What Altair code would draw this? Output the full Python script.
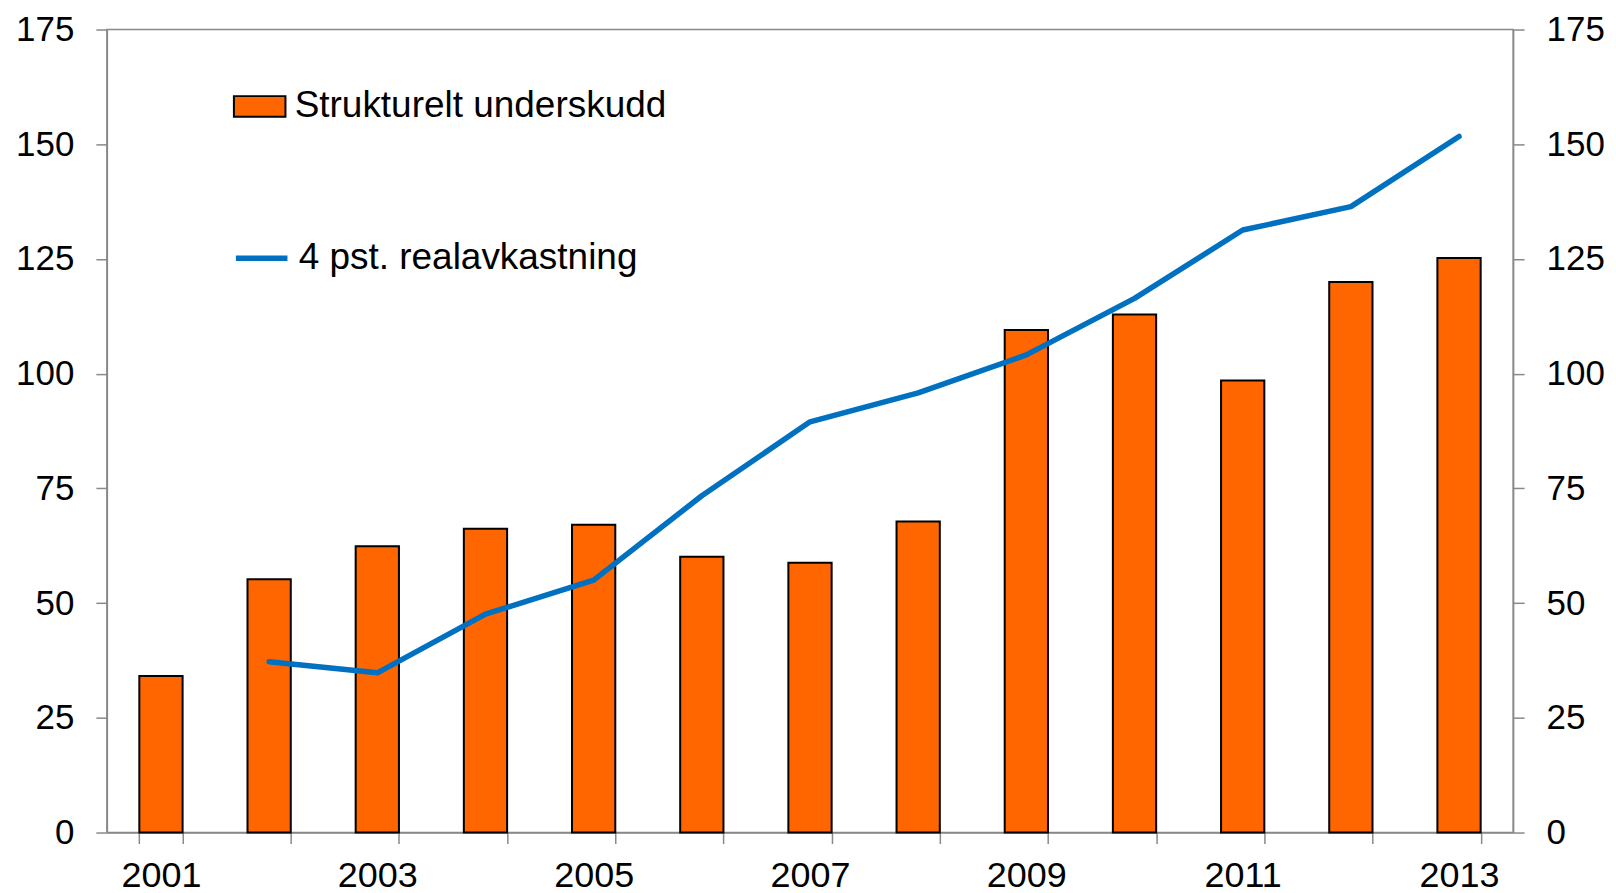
import altair as alt
import pandas as pd

# ---- data ----
years = list(range(2001, 2014))
underskudd = [34.1, 55.2, 62.4, 66.2, 67.1, 60.1, 58.8, 67.8, 109.5, 112.9, 98.5, 120.0, 125.2]
realavkastning = [None, 37.2, 34.8, 47.6, 55.0, 73.4, 89.5, 95.8, 104.1, 116.4, 131.3, 136.4, 151.7]
bar_name = "Strukturelt underskudd"
line_name = "4 pst. realavkastning"
y_ticks = [0, 25, 50, 75, 100, 125, 150, 175]

ORANGE = "#FF6600"
BLUE = "#0070C0"
GRAY = "#898989"
FONT = "Liberation Sans"

df = pd.DataFrame({
    "year": years,
    "underskudd": underskudd,
    "real": realavkastning,
    "bar_series": [bar_name] * len(years),
    "line_series": [line_name] * len(years),
})

x_enc = alt.X(
    "year:O",
    scale=alt.Scale(paddingInner=0.6, paddingOuter=0.3),
    axis=alt.Axis(
        title=None, labelAngle=0, tickBand="extent",
        labelExpr="toNumber(datum.value) % 2 == 1 ? datum.label : ''",
        labelFontSize=36, labelFont=FONT, labelColor="black", labelPadding=15,
        tickSize=11, tickColor=GRAY, tickWidth=1.5, domainColor=GRAY, domainWidth=1.5,
    ),
)

y_scale = alt.Scale(domain=[0, 175], nice=False, zero=True)

def y_axis(orient):
    return alt.Axis(
        title=None, orient=orient, values=y_ticks, grid=False,
        labelFontSize=35, labelFont=FONT, labelColor="black", labelPadding=22,
        tickSize=11, tickColor=GRAY, tickWidth=1.5, domainColor=GRAY, domainWidth=1.5,
    )

bars = alt.Chart(df).mark_bar(stroke="black", strokeWidth=2).encode(
    x=x_enc,
    y=alt.Y("underskudd:Q", scale=y_scale, axis=y_axis("left")),
    fill=alt.Fill(
        "bar_series:N",
        scale=alt.Scale(domain=[bar_name], range=[ORANGE]),
        legend=alt.Legend(
            title=None, orient="none", legendX=126, legendY=50,
            symbolType="M-1,-0.4L1,-0.4L1,0.4L-1,0.4Z", symbolSize=2663,
            symbolStrokeColor="black", symbolStrokeWidth=2, symbolFillColor=ORANGE,
            labelFontSize=37, labelFont=FONT, labelColor="black", labelOffset=8,
            labelLimit=0,
        ),
    ),
)

line = alt.Chart(df).mark_line(strokeWidth=5.5, strokeCap="round", strokeJoin="round").encode(
    x=x_enc,
    y=alt.Y("real:Q", scale=y_scale, axis=y_axis("right")),
    stroke=alt.Stroke(
        "line_series:N",
        scale=alt.Scale(domain=[line_name], range=[BLUE]),
        legend=alt.Legend(
            title=None, orient="none", legendX=126, legendY=200,
            symbolType="stroke", symbolSize=2663, symbolStrokeWidth=5.5,
            labelFontSize=37, labelFont=FONT, labelColor="black", labelOffset=8,
            labelLimit=0,
        ),
    ),
)

chart = (
    alt.layer(bars, line)
    .resolve_scale(y="independent")
    .properties(
        width=1408, height=804,
        autosize=alt.AutoSizeParams(type="none"),
        padding={"left": 99, "top": 21, "right": 95, "bottom": 64},
    )
    .configure(font=FONT)
    .configure_view(stroke=GRAY, strokeWidth=1.5)
)

chart.save("out.html", embed_options={"renderer": "svg", "actions": False})
